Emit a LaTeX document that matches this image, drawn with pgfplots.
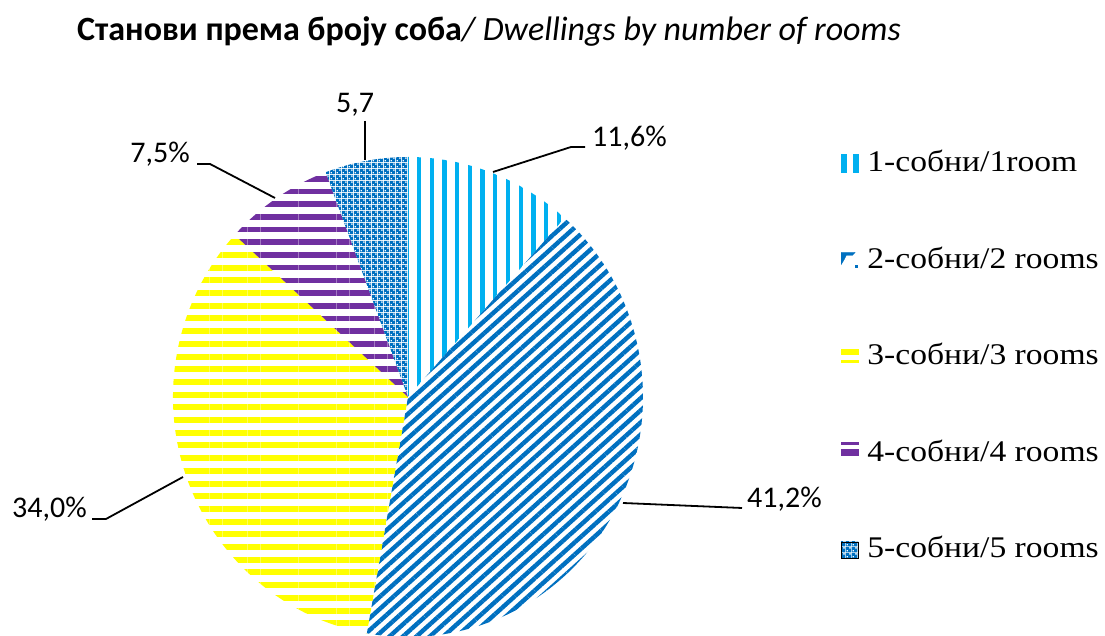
\documentclass[border=0pt]{standalone}
\usepackage{fontspec}
\setmainfont{Carlito}
\newfontfamily\legfont[FakeStretch=1.12]{Liberation Serif}
\usepackage{pgfplots}
\usepackage{pgfplotstable}
\pgfplotsset{compat=1.18}
\usetikzlibrary{patterns,patterns.meta}

\definecolor{cA}{HTML}{00B0F0}
\definecolor{cB}{HTML}{0070C0}
\definecolor{cC}{HTML}{FFFF00}
\definecolor{cD}{HTML}{7030A0}
\definecolor{cE}{HTML}{0070C0}

\pgfdeclarepatternformonly{smallcheck}{\pgfpointorigin}{\pgfpoint{6pt}{6pt}}{\pgfpoint{6pt}{6pt}}{%
  \pgfseteorule
  \pgfpathrectangle{\pgfpointorigin}{\pgfpoint{6pt}{6pt}}%
  \pgfpathrectangle{\pgfpoint{0.6pt}{0.6pt}}{\pgfpoint{1.8pt}{1.8pt}}%
  \pgfpathrectangle{\pgfpoint{3.6pt}{3.6pt}}{\pgfpoint{1.8pt}{1.8pt}}%
  \pgfusepath{fill}}

\pgfplotstableread{
room value
1 11.6
2 41.2
3 34.0
4 7.5
5 5.7
}\piedata

\pgfplotstablegetelem{0}{value}\of\piedata \let\vA\pgfplotsretval
\pgfplotstablegetelem{1}{value}\of\piedata \let\vB\pgfplotsretval
\pgfplotstablegetelem{2}{value}\of\piedata \let\vC\pgfplotsretval
\pgfplotstablegetelem{3}{value}\of\piedata \let\vD\pgfplotsretval
\pgfplotstablegetelem{4}{value}\of\piedata \let\vE\pgfplotsretval
\pgfmathsetmacro\aZ{90}
\pgfmathsetmacro\aA{\aZ-3.6*\vA}
\pgfmathsetmacro\aB{\aA-3.6*\vB}
\pgfmathsetmacro\aC{\aB-3.6*\vC}
\pgfmathsetmacro\aD{\aC-3.6*\vD}
\pgfmathsetmacro\aE{\aD-3.6*\vE}

\newcommand\lbl{\fontsize{30}{36}\selectfont}
% slice: start angle, end angle
\newcommand\slice[2]{(axis cs:408,239) -- ++({235pt*cos(#1)},{240pt*sin(#1)})
  arc[start angle=#1, end angle=#2, x radius=235pt, y radius=240pt] -- cycle}

\begin{document}
\begin{tikzpicture}
\begin{axis}[
  x=1pt, y=1pt, xmin=0, xmax=1105, ymin=0, ymax=636,
  scale only axis, hide axis,
  legend cell align=left,
  legend style={at={(axis cs:841,484)}, anchor=north west, draw=none, fill=none,
    inner sep=0pt, outer sep=0pt,
    font=\legfont\fontsize{30}{34}\selectfont,
    row sep=56.5pt,
    nodes={inner sep=0pt, outer sep=0pt, text height=20pt, text depth=20pt},
    /tikz/every odd column/.style={column sep=9pt}},
]
% slices
\fill[pattern={Lines[angle=90,distance=12.7pt,line width=4.3pt]}, pattern color=cA] \slice{\aZ}{\aA};
\fill[pattern={Lines[angle=42,distance=9pt,line width=4.4pt]}, pattern color=cB] \slice{\aA}{\aB};
\fill[pattern={Lines[angle=0,distance=12.7pt,line width=6pt]}, pattern color=cC] \slice{\aB}{\aC};
\fill[pattern={Lines[angle=0,distance=12.7pt,line width=5.6pt]}, pattern color=cD] \slice{\aC}{\aD};
\fill[pattern=smallcheck, pattern color=cE] \slice{\aD}{\aE};

% leader lines and labels
\draw[line width=1.8pt] (axis cs:493,464) -- (axis cs:571,489) -- (axis cs:585,489);
\node[anchor=base west, inner sep=0pt, font=\lbl] at (axis cs:592,489) {11,6\%};
\draw[line width=1.8pt] (axis cs:623,133) -- (axis cs:742,128);
\node[anchor=base west, inner sep=0pt, font=\lbl] at (axis cs:747,128) {41,2\%};
\draw[line width=1.8pt] (axis cs:92,117) -- (axis cs:106,117) -- (axis cs:183,159);
\node[anchor=base west, inner sep=0pt, font=\lbl] at (axis cs:12,118) {34,0\%};
\draw[line width=1.8pt] (axis cs:197,472) -- (axis cs:210,472) -- (axis cs:275,438);
\node[anchor=base east, inner sep=0pt, font=\lbl] at (axis cs:190,473) {7,5\%};
\draw[line width=1.8pt] (axis cs:365,515) -- (axis cs:365,476);
\node[anchor=base, inner sep=0pt, font=\lbl] at (axis cs:355,523) {5,7};

% title
\node[anchor=base west, inner sep=0pt, font=\fontsize{34}{40}\selectfont] at (axis cs:77,595)
  {\textbf{Станови према броју соба}\textit{/ Dwellings by number of rooms}};

% legend
\addlegendimage{legend image code/.code={\fill[cA] (0pt,0pt) rectangle (5pt,18pt); \fill[cA] (12pt,0pt) rectangle (17pt,18pt);}}
\addlegendentry{1-собни/1room}
\addlegendimage{legend image code/.code={\fill[cB] (0pt,4pt) -- (0pt,16pt) -- (14pt,16pt) -- (11pt,13pt) -- (5pt,13pt) -- (3pt,9pt) -- cycle; \fill[cB] (14pt,1pt) rectangle (16pt,3pt); \path (17pt,0pt);}}
\addlegendentry{2-собни/2 rooms}
\addlegendimage{legend image code/.code={\fill[cC] (0pt,11pt) rectangle (17pt,16pt); \fill[cC] (0pt,3pt) rectangle (17pt,5pt);}}
\addlegendentry{3-собни/3 rooms}
\addlegendimage{legend image code/.code={\fill[cD] (0pt,17pt) rectangle (17pt,19pt); \fill[cD] (0pt,6pt) rectangle (17pt,12pt);}}
\addlegendentry{4-собни/4 rooms}
\addlegendimage{legend image code/.code={\fill[pattern=smallcheck, pattern color=cE] (0pt,0pt) rectangle (17pt,16pt);}}
\addlegendentry{5-собни/5 rooms}
\end{axis}
\pgfresetboundingbox
\path[use as bounding box] (0,0) rectangle (1105pt,636pt);
\end{tikzpicture}
\end{document}
